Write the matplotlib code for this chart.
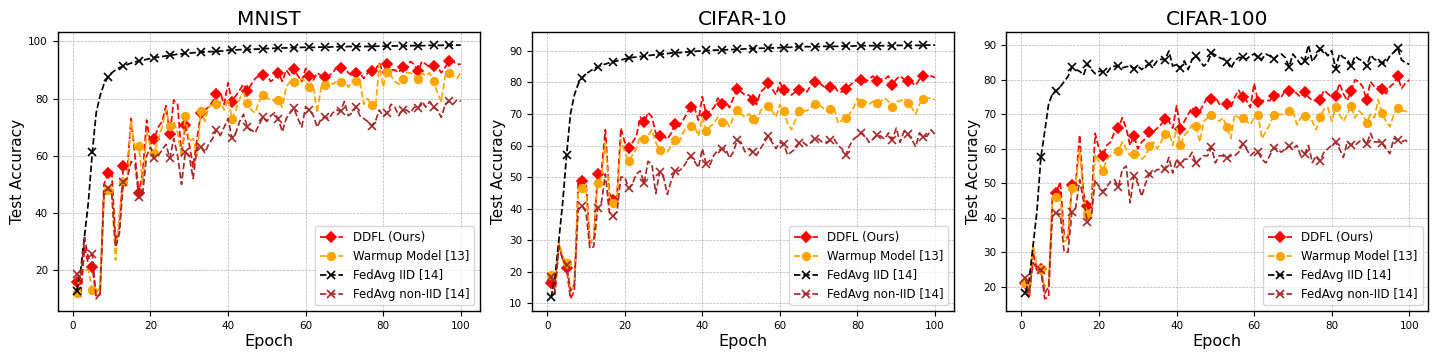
"""
Test accuracy vs. epoch for DDFL and baselines on MNIST, CIFAR-10 and CIFAR-100.
"""

import matplotlib
matplotlib.use("Agg")
import matplotlib.pyplot as plt


# ─────────────────────────────────────────────────────────────────────────────
# Data
# ─────────────────────────────────────────────────────────────────────────────

epochs = list(range(1, 101))

datasets = ["MNIST", "CIFAR-10", "CIFAR-100"]
series_labels = ["DDFL (Ours)", "Warmup Model [13]", "FedAvg IID [14]", "FedAvg non-IID [14]"]

mnist_ddfl = [
    15.9, 10.7, 28, 22, 21.2, 10.5, 11.5, 50, 53.8, 54.5,
    30, 35, 56.5, 55, 73, 60, 47, 54, 72.5, 64,
    66, 70, 72, 77.5, 67.5, 79.5, 78, 60, 70.7, 64,
    56, 66, 74.8, 76, 77, 79, 81.5, 82, 78, 85.5,
    78.9, 81, 83, 85, 82.7, 85, 87, 88, 88.2, 88,
    86, 87, 89, 86, 90, 88, 90.2, 88, 86, 90.5,
    87.9, 86.5, 89, 88, 87.6, 88, 89, 91, 90.6, 91,
    89, 88, 89, 89, 87, 89, 89.6, 90, 92.5, 89,
    92, 90, 90, 89, 91.1, 90, 93, 92, 89.6, 93,
    92, 91, 91.4, 91, 89, 91, 93.2, 93, 92, 92,
]
mnist_warmup = [
    12, 20, 20, 20, 13, 12, 14, 45, 48, 47,
    23.5, 40, 50.9, 52, 72, 62, 63.5, 50, 68, 63,
    61, 66, 70, 76, 70.4, 72, 68, 60, 73.9, 65,
    66, 60, 75.7, 72, 77, 78, 78, 79, 76, 80,
    73, 76, 80, 82, 78.3, 76, 75, 79, 81.1, 80,
    80, 79, 79.5, 77, 84, 86, 85.9, 85, 87, 86,
    84.1, 84, 75, 84, 84.7, 86, 85, 86, 85.9, 86,
    84, 86, 86.1, 86, 78, 80, 77.7, 76.5, 92, 84,
    89.4, 88, 86, 85, 87, 89, 89, 88, 87, 89,
    88, 89, 86.1, 82, 79, 88, 88.8, 88, 87, 89,
]
mnist_iid = [
    12.8, 20, 32, 44, 61.2, 75, 81, 85, 87.4, 89,
    90, 90.8, 91.4, 91.9, 92.4, 92.8, 93.1, 93.4, 93.7, 94,
    94.3, 94.5, 94.7, 94.9, 95.1, 95.3, 95.5, 95.6, 95.8, 95.9,
    96, 96.1, 96.3, 96.3, 96.4, 96.4, 96.5, 96.6, 96.7, 96.9,
    97, 97, 97.1, 97.1, 97.2, 97.2, 97.3, 97.3, 97.4, 97.5,
    97.5, 97.6, 97.7, 97.7, 97.7, 97.8, 97.8, 97.8, 97.9, 97.9,
    97.9, 97.9, 98, 98, 98, 98, 98.1, 98.1, 98.1, 98.1,
    98.2, 98.2, 98.2, 98.2, 98.2, 98.2, 98.2, 98.3, 98.3, 98.3,
    98.4, 98.4, 98.4, 98.4, 98.4, 98.4, 98.5, 98.5, 98.5, 98.5,
    98.5, 98.6, 98.6, 98.6, 98.6, 98.7, 98.7, 98.7, 98.7, 98.7,
]
mnist_noniid = [
    18.6, 17, 31.5, 24, 25.6, 10, 12, 46, 48.6, 47,
    28, 33, 50.9, 52, 58, 57, 45.7, 47, 60, 63,
    59.1, 60, 62, 64, 59.1, 66, 60, 50, 61.4, 60,
    52, 63, 63.1, 61, 64, 66, 69, 67, 70, 73,
    66.1, 68, 72, 74.5, 69.9, 69, 68, 71, 73.4, 72,
    74, 75, 72.8, 68.4, 73, 75, 76.6, 73, 70, 77,
    76, 74, 70, 73, 73.6, 73, 75, 76, 75.6, 79,
    74, 75, 77.1, 74, 73, 72, 70.5, 72, 76, 74,
    74.8, 78, 77, 74, 76, 76, 75, 77, 76.6, 79,
    77, 79, 76.9, 76, 73.4, 78, 79.1, 78, 79.5, 79,
]

cifar10_ddfl = [
    16.5, 13, 29, 24, 21.1, 11.5, 14, 48, 48.7, 49,
    29, 30, 51, 52, 65, 45, 42.7, 44, 65.5, 61,
    59.1, 61, 63, 69, 67.3, 70.5, 69, 64, 63.1, 63,
    62, 64, 66.8, 66, 68, 70, 72.3, 72, 68, 75.5,
    69.8, 71, 72, 75, 73.3, 74, 72, 75, 78, 77,
    76, 76, 74.4, 73, 77, 78, 79.7, 78, 76, 80,
    77.5, 77, 76, 77, 77.5, 78, 77, 79, 80.2, 80,
    79, 78, 78.6, 79, 77, 77, 77.8, 79, 80, 81,
    80.7, 80, 81, 82, 80.4, 81, 81, 82, 79.1, 81,
    82, 81, 80.4, 80, 79, 81, 82.1, 82, 82, 81.5,
]
cifar10_warmup = [
    19, 15, 29.5, 25, 22.7, 14, 16, 46, 46.4, 47,
    29, 31, 48.2, 50, 61, 44, 41.7, 43, 62, 58,
    55.1, 57, 59, 63, 62.2, 63, 65, 61, 58.5, 59,
    58, 60, 61.7, 61, 64, 66, 66.3, 66, 63, 69,
    64.6, 66, 67, 69, 67.3, 68, 66, 69, 71.2, 70,
    69, 70, 68.3, 66.4, 71, 72, 72.6, 71, 69, 73,
    70.9, 67, 65, 68, 70.9, 71, 71, 72, 73, 73,
    72, 71, 71.7, 72, 67, 68, 68.6, 70, 72, 75,
    73.5, 74, 73, 74, 73.5, 74, 75, 74, 72.3, 74,
    74, 75, 73.5, 72, 70, 73, 74.8, 75, 75, 74.5,
]
cifar10_iid = [
    11.9, 18, 30, 42, 57, 70, 76, 79.5, 81.5, 82.7,
    83.5, 84.3, 84.9, 85.4, 85.8, 86.2, 86.5, 86.8, 87.1, 87.4,
    87.7, 87.9, 88, 88.2, 88.3, 88.5, 88.6, 88.8, 88.9, 89,
    89.1, 89.3, 89.4, 89.4, 89.5, 89.6, 89.7, 89.8, 89.9, 90,
    90.1, 90.1, 90.2, 90.2, 90.3, 90.3, 90.4, 90.4, 90.5, 90.5,
    90.6, 90.6, 90.7, 90.7, 90.8, 90.8, 90.9, 90.9, 90.9, 91,
    91, 91.1, 91.1, 91.2, 91.3, 91.3, 91.3, 91.3, 91.3, 91.3,
    91.4, 91.4, 91.4, 91.4, 91.4, 91.5, 91.5, 91.5, 91.5, 91.6,
    91.6, 91.6, 91.6, 91.6, 91.6, 91.6, 91.6, 91.6, 91.6, 91.7,
    91.7, 91.7, 91.7, 91.7, 91.7, 91.7, 91.7, 91.8, 91.8, 91.8,
]
cifar10_noniid = [
    18.4, 14, 28, 24, 22.1, 14, 16, 40, 40.8, 39,
    27.4, 28, 40.1, 42, 51, 39, 37.7, 39, 50, 50,
    46.4, 48, 51, 52, 48, 55, 54, 44.8, 51.7, 50,
    44.5, 49, 52, 52, 53, 55, 56.6, 55, 53, 59,
    54.1, 54, 57, 58.5, 58.9, 59, 56, 58, 61.7, 61,
    58, 59, 57.8, 57, 59, 61, 63, 61, 59, 61,
    60.4, 57, 58, 59, 60.9, 61, 60, 61, 62.2, 62,
    61, 61, 61.7, 62, 60, 59, 57, 60, 62, 63,
    64.1, 63, 61, 62, 63.3, 63, 62, 64, 61.9, 65.5,
    61, 64.5, 63.5, 62, 59.6, 64, 62.8, 63, 65, 63.5,
]

cifar100_ddfl = [
    21.2, 16.6, 30, 25, 25.2, 16.5, 17, 47, 47.2, 50.5,
    35, 34, 49.6, 50, 64, 47, 43.3, 43, 64.5, 60,
    57.8, 61, 62, 65, 66, 69, 66, 61, 63.8, 60,
    62, 63, 64.8, 65, 66, 67, 68.6, 68, 66, 72.5,
    65.7, 68, 70, 72, 70.6, 71, 73, 75, 74.4, 75,
    73, 73, 72.9, 72, 75, 77, 74.9, 74, 72, 79,
    73.7, 74, 74, 74, 75.2, 76, 75, 77, 76.9, 77,
    76, 75, 76.6, 75, 74, 74, 74.2, 77, 76, 75,
    75.2, 79, 76, 74, 76.8, 80, 79.5, 78, 74.2, 79.5,
    78, 78, 77.4, 76, 78, 79, 81.1, 77.5, 79, 80,
]
cifar100_warmup = [
    21.2, 18, 32.2, 26, 25.2, 20, 21, 46, 46, 46,
    33, 34, 48.6, 50, 60, 46, 41.2, 41, 58.5, 56,
    53.7, 57, 58, 59, 59.5, 62, 60, 58, 58.6, 59,
    57, 58, 60.7, 62, 60, 62, 64.4, 65, 61, 66,
    61.2, 64, 65, 67, 66.7, 62, 68, 69, 69.8, 69,
    68, 69, 66.2, 63, 70, 69, 68.9, 68, 67, 69,
    69.8, 63, 65, 67, 69.7, 70, 70, 70, 71, 71,
    67, 69, 69.4, 70, 68, 65.5, 69.2, 71.5, 72, 68,
    72.1, 70, 68, 70, 72.5, 69, 71, 70, 67.6, 70,
    69, 74.2, 70.3, 68, 66.4, 70, 71.7, 71, 71, 70,
]
cifar100_iid = [
    18.3, 22, 32, 42, 57.5, 65, 73, 76, 76.9, 78,
    79.5, 81, 83.6, 83, 82.5, 81.4, 84.6, 83, 81.8, 82.5,
    82.4, 82, 83.5, 84, 84, 83.5, 83.8, 84, 83.3, 84,
    83, 84, 84.6, 84, 85.5, 86, 85.8, 88.4, 84, 84.5,
    83.5, 85.5, 83, 86, 86.9, 85.5, 84, 85, 87.9, 87.2,
    86.5, 86, 85.3, 83.3, 85.5, 86.5, 86.5, 86, 87, 87.5,
    86.5, 86, 87.5, 87, 86, 87, 87.5, 86.5, 83.8, 87.5,
    86, 84.5, 85.5, 90.1, 85.3, 87, 88.9, 88.5, 87, 88.5,
    83.3, 87.5, 86.5, 86, 84, 86.9, 86, 85.5, 84, 87.2,
    86, 85.5, 84.8, 85, 87, 88, 89.3, 85.8, 85, 84.5,
]
cifar100_noniid = [
    22.5, 18, 27, 25, 24.8, 18, 20, 41, 41.4, 41,
    30, 30, 41.6, 43, 51, 45, 38.7, 40, 51, 49,
    47.6, 49, 50.5, 51, 49, 54, 55, 44.3, 52.2, 50,
    46.2, 50, 52.6, 53, 54, 54, 54, 57.5, 53, 57,
    55.5, 57, 57, 59, 55.8, 57, 58, 58, 60.4, 55.9,
    58, 58, 57.2, 58, 58, 59, 61.3, 60, 58, 59,
    59, 57, 55.9, 58, 60.2, 60, 59, 60, 60.8, 60,
    61, 58, 58.4, 61, 56, 58, 56.5, 59, 60, 61,
    62, 60, 57.5, 62, 61.2, 61, 62, 63, 61.3, 64.5,
    62, 62, 61.6, 60, 58.6, 63, 62.6, 62, 62.5, 61.5,
]

panel_series = [
    [mnist_ddfl, mnist_warmup, mnist_iid, mnist_noniid],
    [cifar10_ddfl, cifar10_warmup, cifar10_iid, cifar10_noniid],
    [cifar100_ddfl, cifar100_warmup, cifar100_iid, cifar100_noniid],
]

# style per series: (colour, marker, markersize)
styles = [
    ("red", "D", 5.5),
    ("orange", "o", 5.5),
    ("black", "x", 6),
    ("brown", "x", 6),
]


# ─────────────────────────────────────────────────────────────────────────────
# Figure
# ─────────────────────────────────────────────────────────────────────────────

fig, axes = plt.subplots(1, 3, figsize=(14.4, 3.6), dpi=100)
fig.subplots_adjust(left=0.04, right=0.992, bottom=0.135, top=0.91, wspace=0.123)

for ax, name, series in zip(axes, datasets, panel_series):
    for vals, lbl, (color, marker, ms) in zip(series, series_labels, styles):
        ax.plot(epochs, vals, linestyle="--", color=color, marker=marker,
                markersize=ms, markeredgewidth=1.2, markevery=4,
                linewidth=1.25, label=lbl)
    ax.set_title(name, fontsize=14.5, pad=5)
    ax.set_xlabel("Epoch", fontsize=11.5, labelpad=2)
    ax.set_ylabel("Test Accuracy", fontsize=11, labelpad=2)
    ax.tick_params(labelsize=7.5)
    ax.grid(True, linestyle="--", linewidth=0.5, color="#a0a0a0", alpha=0.8)
    for sp in ax.spines.values():
        sp.set_linewidth(1.0)
    ax.legend(loc="lower right", fontsize=8.5)

fig.savefig("out.png", dpi=100)
plt.close(fig)
